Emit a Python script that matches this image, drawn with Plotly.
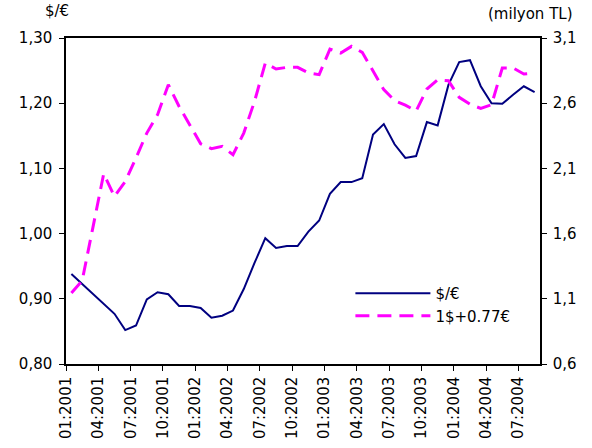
import plotly.graph_objects as go

# categories: months Jan 2001 .. Aug 2004 (index positions)
month_labels = [
    "01:2001", "02:2001", "03:2001", "04:2001", "05:2001", "06:2001",
    "07:2001", "08:2001", "09:2001", "10:2001", "11:2001", "12:2001",
    "01:2002", "02:2002", "03:2002", "04:2002", "05:2002", "06:2002",
    "07:2002", "08:2002", "09:2002", "10:2002", "11:2002", "12:2002",
    "01:2003", "02:2003", "03:2003", "04:2003", "05:2003", "06:2003",
    "07:2003", "08:2003", "09:2003", "10:2003", "11:2003", "12:2003",
    "01:2004", "02:2004", "03:2004", "04:2004", "05:2004", "06:2004",
    "07:2004", "08:2004",
]

usd_eur = [0.938, 0.923, 0.907, 0.893, 0.877, 0.852, 0.859, 0.899, 0.910, 0.907,
           0.889, 0.889, 0.886, 0.871, 0.874, 0.882, 0.915, 0.955, 0.993, 0.978,
           0.981, 0.981, 1.003, 1.020, 1.061, 1.079, 1.079, 1.085, 1.152, 1.168,
           1.137, 1.116, 1.119, 1.171, 1.166, 1.228, 1.263, 1.266, 1.226, 1.200,
           1.199, 1.213, 1.226, 1.217]

basket_tl = [1.144, 1.239, 1.648, 2.059, 1.885, 2.000, 2.180, 2.371, 2.512, 2.742,
             2.575, 2.435, 2.289, 2.251, 2.269, 2.205, 2.371, 2.614, 2.908, 2.862,
             2.875, 2.875, 2.832, 2.819, 3.015, 2.985, 3.036, 2.990, 2.845, 2.704,
             2.620, 2.585, 2.540, 2.709, 2.780, 2.772, 2.645, 2.592, 2.560, 2.588,
             2.870, 2.870, 2.824, 2.832]

left_ticks = [0.80, 0.90, 1.00, 1.10, 1.20, 1.30]
right_ticks = [0.6, 1.1, 1.6, 2.1, 2.6, 3.1]

x = list(range(len(month_labels)))
tick_pos = [i - 0.5 for i in range(0, len(month_labels), 3)]
tick_text = [month_labels[i] for i in range(0, len(month_labels), 3)]

FONT = "DejaVu Sans"

fig = go.Figure()
fig.add_trace(go.Scatter(
    x=x, y=usd_eur, name="$/€", mode="lines",
    line=dict(color="#000080", width=2), yaxis="y",
))
fig.add_trace(go.Scatter(
    x=x, y=basket_tl, name="1$+0.77€", mode="lines",
    line=dict(color="#FF00FF", width=3, dash="14px,8px"), yaxis="y2",
))

fig.update_layout(
    width=592, height=448,
    margin=dict(l=66, r=52, t=38, b=84, autoexpand=False),
    paper_bgcolor="white", plot_bgcolor="white",
    separators=",.",
    font=dict(family=FONT, size=15, color="black"),
    showlegend=True,
    legend=dict(x=0.60, y=0.267, xanchor="left", yanchor="top",
                bgcolor="rgba(0,0,0,0)", itemwidth=75,
                font=dict(size=15), tracegroupgap=0),
    xaxis=dict(
        range=[-0.5, len(month_labels) - 0.5], automargin=False,
        tickmode="array", tickvals=tick_pos, ticktext=tick_text,
        tickangle=-90, ticks="outside", ticklen=5, tickcolor="black",
        showline=True, linecolor="black", linewidth=1.5, mirror=True,
        showgrid=False, zeroline=False,
    ),
    yaxis=dict(
        range=[0.80, 1.30], tickmode="array", tickvals=left_ticks,
        automargin=False, ticklabelstandoff=4,
        tickformat=".2f", ticks="outside", ticklen=5, tickcolor="black",
        showline=True, linecolor="black", linewidth=1.5,
        showgrid=False, zeroline=False,
    ),
    yaxis2=dict(
        range=[0.6, 3.1], tickmode="array", tickvals=right_ticks,
        automargin=False, ticklabelstandoff=3,
        tickformat=".1f", ticks="outside", ticklen=5, tickcolor="black",
        showline=True, linecolor="black", linewidth=1.5,
        overlaying="y", side="right",
        showgrid=False, zeroline=False,
    ),
    annotations=[
        dict(text="$/€", xref="paper", yref="paper", x=-0.019, y=1.083,
             xanchor="center", yanchor="middle", showarrow=False,
             font=dict(size=15)),
        dict(text="(milyon TL)", xref="paper", yref="paper", x=0.981, y=1.074,
             xanchor="center", yanchor="middle", showarrow=False,
             font=dict(size=15)),
    ],
)

fig.write_html("out.html", config={"displayModeBar": False},
               post_script="document.body.style.margin='0';")
